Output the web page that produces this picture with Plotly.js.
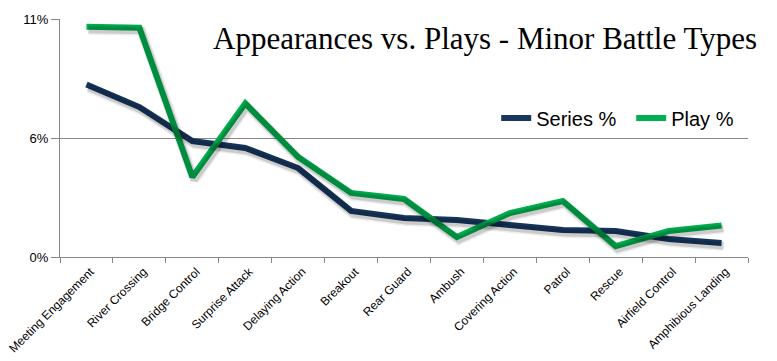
<!DOCTYPE html>
<html>
<head>
<meta charset="utf-8">
<script src="https://cdn.plot.ly/plotly-3.0.1.min.js"></script>
<style>
  html, body { margin: 0; padding: 0; background: #fff; }
  #chart { width: 777px; height: 361px; }
</style>
</head>
<body>
<div id="chart"></div>
<script>
const categories = [
  "Meeting Engagement", "River Crossing", "Bridge Control", "Surprise Attack",
  "Delaying Action", "Breakout", "Rear Guard", "Ambush", "Covering Action",
  "Patrol", "Rescue", "Airfield Control", "Amphibious Landing"
];
const seriesPct = [7.97, 6.93, 5.36, 5.04, 4.11, 2.13, 1.80, 1.71, 1.48, 1.25, 1.20, 0.83, 0.65];
const playPct   = [10.64, 10.60, 3.70, 7.10, 4.62, 2.96, 2.68, 0.92, 2.03, 2.59, 0.50, 1.20, 1.46];
const yTickVals = [0, 5.5, 11];
const yTickText = ["0%", "6%", "11%"];

// plot-area geometry (px) used only to offset the soft shadow layer
const plotW = 777 - 60 - 11, plotH = 361 - 19 - 104;
const xRange = [-0.5, categories.length - 0.5];
const yRange = [0, 11];
const shDx = 2 * (xRange[1] - xRange[0]) / plotW;   // 2px right
const shDy = 3 * (yRange[1] - yRange[0]) / plotH;   // 3px down

function shadow(yvals, width, alpha) {
  return { x: categories, y: yvals, type: "scatter", mode: "lines", showlegend: false,
    hoverinfo: "skip", xaxis: "x2", yaxis: "y2",
    line: { color: "rgba(0,0,0," + alpha + ")", width: width } };
}

const traces = [
  shadow(seriesPct, 10, 0.07), shadow(seriesPct, 7, 0.14),
  shadow(playPct, 10, 0.07), shadow(playPct, 7, 0.14),
  { x: categories, y: seriesPct, name: "Series %", type: "scatter", mode: "lines",
    line: { color: "#17375E", width: 6 } },
  { x: categories, y: playPct, name: "Play %", type: "scatter", mode: "lines",
    line: { color: "#00B050", width: 6 } }
];

const layout = {
  width: 777, height: 361,
  margin: { l: 60, r: 11, t: 19, b: 104 },
  paper_bgcolor: "#ffffff", plot_bgcolor: "#ffffff",
  font: { family: "Liberation Sans, Arial, sans-serif", color: "#000000" },
  title: {
    text: "Appearances vs. Plays - Minor Battle Types",
    font: { family: "Liberation Serif, Times New Roman, serif", size: 31, color: "#000000" },
    xref: "container", yref: "container",
    x: 757 / 777, xanchor: "right",
    y: 1 - 38 / 361, yanchor: "middle"
  },
  showlegend: true,
  legend: {
    orientation: "h",
    x: 0.634, xanchor: "left",
    y: 0.584, yanchor: "middle",
    entrywidthmode: "pixels", entrywidth: 90,
    font: { family: "Liberation Sans, Arial, sans-serif", size: 20, color: "#000000" },
    bgcolor: "rgba(0,0,0,0)"
  },
  xaxis: {
    type: "category",
    range: xRange,
    tickangle: -45,
    tickson: "boundaries",
    ticks: "outside", ticklen: 5, tickcolor: "#868686",
    ticklabelshift: 4, ticklabelstandoff: 2,
    showline: true, linecolor: "#868686", linewidth: 1,
    showgrid: false, zeroline: false,
    tickfont: { family: "Liberation Sans, Arial, sans-serif", size: 12, color: "#000000" },
    fixedrange: true
  },
  yaxis: {
    range: yRange,
    tickvals: yTickVals, ticktext: yTickText,
    ticks: "outside", ticklen: 8, tickcolor: "#868686",
    showline: true, linecolor: "#868686", linewidth: 1,
    showgrid: true, gridcolor: "#868686", gridwidth: 1,
    zeroline: false,
    tickfont: { family: "Liberation Sans, Arial, sans-serif", size: 13, color: "#000000" },
    fixedrange: true
  },
  xaxis2: {
    type: "category", overlaying: "x",
    range: [xRange[0] - shDx, xRange[1] - shDx],
    visible: false, fixedrange: true
  },
  yaxis2: {
    overlaying: "y",
    range: [yRange[0] + shDy, yRange[1] + shDy],
    visible: false, fixedrange: true
  }
};

Plotly.newPlot("chart", traces, layout, { displayModeBar: false, staticPlot: true });
</script>
</body>
</html>
